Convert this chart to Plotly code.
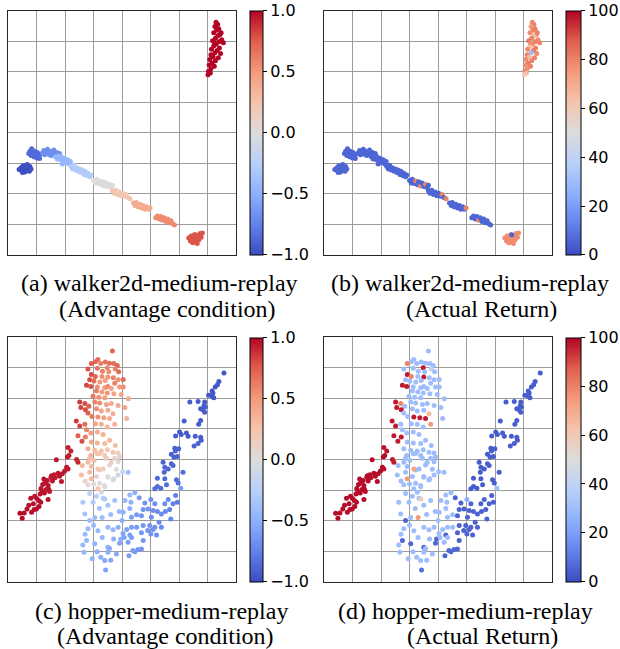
import plotly.graph_objects as go

# coolwarm colormap samples
COOLWARM = [[0.0, "#3b4cc0"], [0.125, "#6282ea"], [0.25, "#8db0fe"], [0.375, "#b8d0f9"],
            [0.5, "#dddcdc"], [0.625, "#f5c4ac"], [0.75, "#f49a7b"], [0.875, "#de604d"],
            [1.0, "#b40426"]]

# ---------------- walker2d-medium-replay embedding: (x, y, advantage, return) ----------------
walker_b1 = [(0.38,2.80,-0.98,6),(0.45,2.86,-0.98,6),(0.47,2.76,-0.98,6),(0.52,2.92,-0.98,6),(0.55,2.82,-0.98,6),
             (0.58,2.72,-0.98,6),(0.62,2.88,-0.98,6),(0.64,2.78,-0.98,6),(0.68,2.94,-0.98,6),(0.70,2.84,-0.98,6),
             (0.74,2.74,-0.98,6),(0.76,2.90,-0.98,6),(0.80,2.82,-0.98,6),(0.50,2.70,-0.98,6),(0.66,2.96,-0.98,6)]
walker_b2 = [(0.72,3.32,-0.86,6),(0.76,3.40,-0.86,6),(0.80,3.26,-0.86,6),(0.84,3.44,-0.86,6),(0.86,3.34,-0.86,6),
             (0.90,3.22,-0.86,6),(0.92,3.40,-0.86,6),(0.96,3.30,-0.86,6),(1.00,3.18,-0.86,6),(1.02,3.36,-0.86,6),
             (1.06,3.26,-0.86,6),(1.10,3.16,-0.86,6),(1.12,3.30,-0.86,6),(0.82,3.48,-0.86,6)]
walker_b3 = [(1.20,3.34,-0.68,6),(1.25,3.42,-0.68,6),(1.28,3.28,-0.68,6),(1.34,3.38,-0.68,6),(1.38,3.46,-0.68,6),
             (1.42,3.30,-0.68,6),(1.46,3.40,-0.68,6),(1.50,3.26,-0.68,6),(1.55,3.36,-0.68,6),(1.60,3.44,-0.68,6),
             (1.64,3.28,-0.68,6),(1.70,3.36,-0.68,6),(1.75,3.24,-0.68,6),(1.80,3.32,-0.68,6),(1.85,3.22,-0.68,6)]
walker_b4 = [(1.66,3.22,-0.45,6),(1.72,3.14,-0.45,6),(1.78,3.24,-0.45,6),(1.84,3.12,-0.45,6),(1.88,3.20,-0.45,6),
             (1.94,3.06,-0.45,6),(1.98,3.16,-0.45,6),(2.04,3.02,-0.45,6),(2.08,3.12,-0.45,6),(2.14,2.98,-0.45,6),
             (2.18,3.06,-0.45,6),(1.90,2.98,-0.45,6)]
walker_b5 = [(2.20,2.90,-0.28,6),(2.26,2.82,-0.28,6),(2.30,2.94,-0.28,6),(2.36,2.78,-0.28,6),(2.40,2.86,-0.28,6),
             (2.46,2.74,-0.28,6),(2.50,2.82,-0.28,6),(2.56,2.70,-0.28,6),(2.60,2.78,-0.28,6),(2.66,2.64,-0.28,6),
             (2.70,2.74,-0.28,6),(2.76,2.60,-0.28,6),(2.80,2.68,-0.28,6),(2.86,2.56,-0.28,6),(2.90,2.62,-0.28,6)]
walker_b6 = [(3.00,2.44,0.0,6),(3.06,2.36,0.0,6),(3.10,2.48,0.0,6),(3.16,2.34,0.0,6),(3.22,2.42,0.0,80),
             (3.28,2.30,0.0,6),(3.32,2.40,0.0,6),(3.38,2.26,0.0,80),(3.44,2.36,0.0,6),(3.50,2.24,0.0,6),
             (3.56,2.32,0.0,80),(3.62,2.20,0.0,6),(3.66,2.28,0.0,6)]
walker_b7 = [(3.66,2.10,0.22,6),(3.72,2.02,0.22,6),(3.78,2.12,0.22,6),(3.84,1.98,0.22,6),(3.90,2.06,0.22,6),
             (3.96,1.94,0.22,6),(4.02,2.02,0.22,6),(4.08,1.92,0.22,6),(4.14,1.98,0.22,80),(4.20,1.88,0.22,6),
             (4.28,1.84,0.22,80)]
walker_b8 = [(4.40,1.70,0.4,6),(4.46,1.62,0.4,6),(4.50,1.72,0.4,6),(4.56,1.58,0.4,6),(4.62,1.66,0.4,6),
             (4.68,1.54,0.4,6),(4.74,1.62,0.4,6),(4.80,1.50,0.4,6),(4.86,1.58,0.4,6),(4.92,1.50,0.4,6),
             (4.98,1.54,0.4,80)]
walker_b9 = [(5.18,1.22,0.56,6),(5.24,1.28,0.56,6),(5.30,1.18,0.56,6),(5.36,1.26,0.56,6),(5.42,1.14,0.56,80),
             (5.48,1.22,0.56,6),(5.54,1.10,0.56,6),(5.60,1.18,0.56,6),(5.66,1.06,0.56,6),(5.72,1.12,0.56,6),
             (5.78,1.02,0.56,6),(5.84,0.98,0.56,6)]
walker_b10 = [(6.34,0.56,0.78,78),(6.40,0.46,0.78,78),(6.42,0.62,0.78,78),(6.48,0.40,0.78,78),(6.50,0.54,0.78,78),
              (6.54,0.66,0.78,78),(6.58,0.44,0.78,78),(6.60,0.56,0.78,78),(6.64,0.38,0.78,78),(6.66,0.64,0.78,78),
              (6.70,0.50,0.78,78),(6.74,0.70,0.78,78),(6.78,0.58,0.78,78),(6.82,0.72,0.78,78),(6.58,0.66,0.78,5)]
walker_b11 = [(7.30,7.62,1.0,78),(7.36,7.55,1.0,80),(7.26,7.48,1.0,75),(7.40,7.40,1.0,82),(7.32,7.36,1.0,80),
              (7.22,7.28,1.0,78),(7.44,7.22,1.0,80),(7.36,7.18,1.0,65),(7.28,7.10,1.0,80),(7.50,7.05,1.0,78),
              (7.18,7.02,1.0,82),(7.40,6.98,1.0,80),(7.30,6.90,1.0,78),(7.56,6.95,1.0,80),(7.22,6.84,1.0,65),
              (7.42,6.78,1.0,80),(7.14,6.74,1.0,78),(7.34,6.70,1.0,82),(7.26,6.62,1.0,30),(7.46,6.60,1.0,78),
              (7.12,6.56,1.0,80),(7.20,6.48,1.0,65),(7.38,6.46,1.0,80),(7.08,6.40,1.0,78),(7.28,6.36,1.0,80),
              (7.16,6.28,1.0,82),(7.06,6.22,1.0,78),(7.24,6.18,1.0,80),(7.12,6.10,1.0,78),(7.04,6.02,1.0,80),
              (7.10,5.96,1.0,65),(7.02,5.90,1.0,60),(7.48,7.28,1.0,80),(7.24,6.96,1.0,78)]

# ---------------- hopper-medium-replay embedding: (x, y, advantage, return) ----------------
hopper_left_arm = [(0.41,2.24,0.98,99),(0.49,2.08,0.98,99),(0.56,2.25,0.98,99),(0.66,2.38,0.97,99),(0.79,2.73,0.97,99),
    (0.82,2.27,0.98,99),(0.91,2.36,0.97,99),(0.93,2.80,0.97,99),(0.99,2.38,0.97,99),(1.00,2.72,0.96,99),
    (1.07,2.66,0.97,99),(1.08,2.46,0.97,99),(1.12,2.87,0.96,99),(1.14,2.60,0.97,99),(0.88,2.55,0.97,99),
    (1.19,2.95,0.96,99),(1.21,3.18,0.96,99),(1.25,3.36,0.96,99),(1.27,2.90,0.96,99),(1.29,3.23,0.96,99),
    (1.33,3.02,0.96,99),(1.37,3.31,0.96,99),(1.40,3.15,0.96,99),(1.40,2.69,0.96,99),(1.42,3.03,0.96,99),
    (1.45,2.95,0.95,99),(1.50,3.42,0.95,99),(1.52,3.47,0.95,99),(1.55,3.30,0.95,99),(1.61,3.50,0.95,99),
    (1.64,3.40,0.95,99),(1.69,3.99,0.95,99),(1.75,3.55,0.95,99),(1.80,3.45,0.95,99),(1.87,3.28,0.95,99),
    (1.90,3.53,0.94,99),(1.98,3.62,0.94,99),(2.05,3.75,0.94,99),(2.10,3.69,0.94,99),(2.08,4.08,0.94,99),
    (2.13,4.13,0.93,99),(2.20,4.28,0.92,98),(2.10,4.39,0.92,98),(2.45,3.91,0.9,97),(2.40,4.00,0.9,97),
    (0.72,2.50,0.97,99),(1.15,3.05,0.96,99)]
hopper_column_top = [(3.66,7.55,0.72,30),(3.15,7.27,0.68,30),(3.06,7.20,0.72,30),(3.25,7.14,0.62,30),(3.41,7.19,0.66,30),
    (3.56,7.15,0.70,30),(3.71,7.14,0.68,30),(3.83,7.08,0.72,30),(2.92,7.14,0.75,80),(2.80,6.96,0.78,30),
    (3.13,6.99,0.65,30),(3.48,7.00,0.60,97),(3.31,6.89,0.62,30),(3.53,6.87,0.55,30),(3.76,6.96,0.60,40),
    (3.88,6.87,0.70,30),(2.92,6.78,0.80,97),(3.06,6.72,0.72,80),(3.29,6.72,0.55,30),(3.50,6.70,0.52,97),
    (3.69,6.68,0.60,30),(3.86,6.61,0.55,30),(2.86,6.61,0.80,30),(3.01,6.57,0.70,30),(3.22,6.54,0.50,30),
    (3.41,6.59,0.48,30),(3.74,6.50,0.60,30),(2.75,6.43,0.82,97),(2.90,6.39,0.78,97),(3.13,6.37,0.55,30),
    (3.39,6.35,0.50,30),(3.50,6.39,0.58,30),(3.62,6.32,0.45,30),(3.91,6.37,0.50,30),(3.10,6.24,0.62,30),
    (3.29,6.21,0.50,30),(3.48,6.18,0.52,30),(3.71,6.15,0.45,30),(3.97,6.13,0.42,30),(2.98,6.07,0.65,30),
    (3.18,6.04,0.55,30),(3.39,6.02,0.48,30),(2.51,5.88,0.85,97),(2.69,5.83,0.80,80),(2.83,5.74,0.75,30),
    (3.04,5.88,0.60,30),(3.21,5.85,0.55,30),(3.45,5.80,0.45,30),(3.62,5.83,0.40,30),(3.86,5.77,0.42,30),
    (2.55,5.70,0.82,97),(2.71,5.63,0.80,97),(3.10,5.66,0.55,30),(3.27,5.59,0.45,30),(3.50,5.61,0.40,30),
    (3.68,5.50,0.38,65),(2.80,5.52,0.75,30),(2.94,5.41,0.65,30),(3.15,5.39,0.55,97),(3.36,5.37,0.45,97),
    (3.56,5.34,0.40,97),(3.74,5.15,0.35,75),(2.39,5.26,0.85,97),(2.51,5.10,0.82,97),(2.69,5.15,0.70,30),
    (3.06,5.17,0.45,30),(3.27,5.15,0.38,30),(3.48,5.06,0.35,30),(2.75,4.97,0.60,30),(2.90,4.87,0.45,30),
    (3.13,4.90,0.40,30),(3.33,4.82,0.35,30),(2.45,4.78,0.75,97),(2.71,4.74,0.62,97),(2.59,4.60,0.80,97),
    (2.92,4.57,0.40,30),(3.13,4.54,0.35,30),(3.39,4.52,0.30,30),(3.56,4.63,0.32,30),(3.76,4.46,0.28,30),
    (2.80,4.35,0.38,30),(3.04,4.30,0.30,30),(3.27,4.28,0.28,30),(3.48,4.32,0.25,30),(3.68,4.24,0.22,30),
    (2.90,4.13,0.35,30),(3.13,4.19,0.28,30),(3.39,4.13,0.22,30),(3.86,4.21,0.15,30),(4.04,6.62,0.70,30),
    (4.04,6.37,0.55,30),(4.22,5.99,0.40,30),(4.16,5.34,0.35,30),(4.10,5.70,0.42,30)]
hopper_column_mid = [(2.57,3.49,0.30,30),(2.92,3.77,0.28,30),(2.86,4.04,0.30,30),(3.21,4.20,0.25,30),(3.45,4.04,0.20,30),
    (3.74,4.04,0.10,30),(3.86,3.93,0.02,30),(3.56,3.82,0.05,30),(3.91,4.09,0.08,30),(3.21,3.66,0.10,30),
    (3.80,3.68,0.00,30),(3.50,3.44,0.02,30),(2.80,3.17,0.05,30),(3.21,3.22,0.00,30),(3.68,3.33,-0.05,30),
    (3.86,3.49,-0.10,30),(3.10,3.44,0.08,30),(3.39,3.11,-0.02,30),(2.80,3.91,0.30,30),(3.01,3.97,0.28,30),
    (3.15,3.69,0.22,72),(3.33,3.69,0.15,30),(2.86,3.58,0.30,30),(2.92,3.37,0.30,75),(3.15,3.04,0.25,30),
    (3.50,3.42,0.00,30),(3.71,3.37,-0.05,30),(3.39,3.15,0.00,30),(3.27,2.93,-0.05,30),(2.60,3.80,0.32,30),
    (2.70,3.30,0.10,30),(3.00,3.20,0.02,30),(3.62,3.90,0.12,30),(4.02,3.60,-0.15,30)]
hopper_column_low = [(2.86,2.89,-0.20,30),(3.33,2.73,-0.25,30),(2.98,2.60,-0.30,30),(3.39,2.71,-0.30,60),(3.50,2.50,-0.35,30),
    (3.74,2.66,-0.35,30),(2.69,2.22,-0.35,30),(2.86,2.00,-0.40,6),(3.04,2.10,-0.40,30),(2.80,1.73,-0.42,30),
    (3.15,1.67,-0.45,30),(3.50,1.78,-0.45,30),(3.68,1.70,-0.45,30),(3.86,1.78,-0.50,30),(3.95,1.40,-0.50,6),
    (3.50,1.13,-0.50,6),(3.39,0.69,-0.55,30),(2.75,1.35,-0.45,6),(3.04,1.24,-0.48,6),(2.66,0.96,-0.45,30),
    (3.50,0.96,-0.50,30),(3.80,0.91,-0.55,30),(2.62,1.20,-0.45,30),(3.12,0.98,-0.50,30),(3.42,0.38,-0.58,8),
    (3.56,1.09,-0.52,30),(3.91,1.26,-0.55,6),(3.20,2.40,-0.35,30),(3.60,2.20,-0.40,30),(3.90,2.30,-0.45,30),
    (2.62,2.60,-0.30,30),(3.10,2.80,-0.25,30),(2.70,1.55,-0.42,30),(3.30,1.45,-0.45,30),(3.70,1.40,-0.50,30),
    (3.30,2.10,-0.40,75),(3.00,1.85,-0.42,30),(3.60,0.70,-0.55,30),(3.25,0.80,-0.50,30),(2.95,0.75,-0.48,30),
    (4.00,2.00,-0.50,30)]
hopper_bowl = [(5.88,2.82,-0.75,5),(5.62,2.69,-0.72,5),(5.94,2.60,-0.78,5),(5.79,2.55,-0.75,5),(5.50,2.55,-0.70,5),
    (5.01,2.69,-0.68,25),(4.80,2.58,-0.65,5),(5.15,2.55,-0.68,5),(4.74,2.36,-0.65,5),(4.91,2.38,-0.66,5),
    (5.09,2.33,-0.68,5),(5.24,2.30,-0.70,5),(5.38,2.22,-0.70,5),(5.52,2.30,-0.72,5),(5.67,2.36,-0.75,5),
    (5.71,2.05,-0.72,5),(5.30,1.95,-0.70,5),(5.03,2.11,-0.68,5),(4.68,2.16,-0.65,5),(4.51,2.19,-0.62,30),
    (4.33,2.11,-0.60,30),(4.74,1.84,-0.65,5),(4.97,1.84,-0.66,5),(5.15,1.78,-0.68,5),(5.38,1.78,-0.70,5),
    (5.09,1.71,-0.67,5),(4.90,1.68,-0.66,5),(4.68,1.60,-0.65,5),(5.21,1.53,-0.68,5),(5.01,1.56,-0.66,5),
    (4.51,1.78,-0.62,30),(4.33,1.78,-0.60,30),(4.16,1.71,-0.58,30),(4.27,1.53,-0.60,5),(4.07,1.45,-0.58,30),
    (4.33,1.45,-0.60,30),(4.74,1.35,-0.64,5),(4.21,1.29,-0.60,30),(4.68,1.07,-0.65,6),(4.56,1.05,-0.64,6),
    (4.45,0.98,-0.63,6),(4.24,0.85,-0.60,6),(4.38,1.02,-0.62,6),(4.03,1.58,-0.58,30),(4.10,2.66,-0.45,30),
    (4.27,2.84,-0.45,30),(4.45,2.91,-0.50,30),(4.31,2.60,-0.50,30),(4.04,2.27,-0.48,30),(4.27,2.40,-0.50,30),
    (4.21,3.58,-0.40,30),(4.60,2.75,-0.62,5)]
hopper_right_arm = [(7.58,6.83,-0.95,4),(7.27,6.37,-0.95,4),(7.16,6.24,-0.95,4),(7.19,6.18,-0.95,4),(7.04,6.10,-0.95,4),
    (7.16,6.07,-0.95,4),(7.22,6.02,-0.95,4),(6.90,5.88,-0.93,4),(6.67,5.90,-0.93,4),(6.38,5.88,-0.93,4),
    (6.88,5.77,-0.93,4),(6.92,5.72,-0.93,4),(6.76,5.66,-0.93,4),(6.84,5.63,-0.93,4),(6.90,5.55,-0.93,4),
    (6.76,5.28,-0.92,4),(6.18,5.26,-0.92,4),(6.69,5.15,-0.92,4),(6.02,4.90,-0.92,4),(6.08,4.82,-0.92,4),
    (6.26,4.87,-0.92,4),(6.32,4.76,-0.92,4),(5.88,4.77,-0.92,4),(6.57,4.76,-0.92,4),(6.76,4.73,-0.92,4),
    (6.78,4.63,-0.92,4),(6.67,4.52,-0.9,4),(6.53,4.44,-0.9,4),(5.85,4.37,-0.9,4),(5.99,4.35,-0.9,4),
    (5.87,4.28,-0.9,4),(5.73,4.17,-0.9,4),(5.94,4.10,-0.9,4),(5.82,4.08,-0.9,4),(7.40,6.55,-0.95,4),
    (7.35,6.45,-0.95,4),(5.44,3.91,-0.88,4),(5.73,3.86,-0.88,4),(5.79,3.80,-0.88,4),(5.50,3.75,-0.88,4),
    (5.62,3.69,-0.88,4),(5.48,3.58,-0.88,4),(6.14,3.58,-0.85,4),(5.24,3.39,-0.85,4),(5.50,3.37,-0.85,4),
    (5.91,3.34,-0.85,4),(5.97,3.23,-0.85,4),(5.24,3.12,-0.85,4),(5.36,3.06,-0.85,4),(5.56,3.17,-0.85,4),
    (6.06,3.06,-0.60,30),(5.15,3.04,-0.85,4)]

walker = walker_b1 + walker_b2 + walker_b3 + walker_b4 + walker_b5 + walker_b6 + walker_b7 + walker_b8 + walker_b9 + walker_b10 + walker_b11
hopper = hopper_left_arm + hopper_column_top + hopper_column_mid + hopper_column_low + hopper_bowl + hopper_right_arm

W, H = 620, 649

def col(data, i):
    return [p[i] for p in data]

adv_ticks = [-1.0, -0.5, 0.0, 0.5, 1.0]
adv_text = ["\u22121.0", "\u22120.5", "0.0", "0.5", "1.0"]
ret_ticks = [0, 20, 40, 60, 80, 100]
ret_text = ["0", "20", "40", "60", "80", "100"]

# panel pixel boxes: (left, right, top, bottom) and colorbar (left, width)
panels = [
    dict(box=(8.3, 236.7, 10.7, 255.0), cb=(250.7, 12.7), data=walker, ci=2, rng=(-1, 1), tv=adv_ticks, tt=adv_text),
    dict(box=(325.0, 554.0, 10.7, 255.0), cb=(568.3, 15.0), data=walker, ci=3, rng=(0, 100), tv=ret_ticks, tt=ret_text),
    dict(box=(8.3, 236.7, 337.3, 581.7), cb=(250.7, 13.3), data=hopper, ci=2, rng=(-1, 1), tv=adv_ticks, tt=adv_text),
    dict(box=(325.0, 554.0, 337.3, 581.7), cb=(568.3, 15.0), data=hopper, ci=3, rng=(0, 100), tv=ret_ticks, tt=ret_text),
]

fig = go.Figure()
layout = dict(width=W, height=H, margin=dict(l=0, r=0, t=0, b=0), paper_bgcolor="white",
              plot_bgcolor="white", showlegend=False)

for k, p in enumerate(panels):
    l, r, t, b = p["box"]
    sfx = "" if k == 0 else str(k + 1)
    layout["xaxis" + sfx] = dict(domain=[l / W, r / W], range=[0, 8], tick0=0, dtick=1, showgrid=True,
                                 gridcolor="#9c9c9c", gridwidth=1, showticklabels=False, ticks="",
                                 zeroline=False, showline=True, mirror=True, linecolor="#262626", linewidth=1,
                                 anchor="y" + sfx, fixedrange=True)
    layout["yaxis" + sfx] = dict(domain=[1 - b / H, 1 - t / H], range=[0, 8], tick0=0, dtick=1, showgrid=True,
                                 gridcolor="#9c9c9c", gridwidth=1, showticklabels=False, ticks="",
                                 zeroline=False, showline=True, mirror=True, linecolor="#262626", linewidth=1,
                                 anchor="x" + sfx, fixedrange=True)
    cbx, cbw = p["cb"]
    fig.add_trace(go.Scatter(
        x=col(p["data"], 0), y=col(p["data"], 1), mode="markers",
        xaxis="x" + sfx, yaxis="y" + sfx, hoverinfo="skip",
        marker=dict(size=5, color=col(p["data"], p["ci"]), colorscale=COOLWARM,
                    cmin=p["rng"][0], cmax=p["rng"][1], line=dict(width=0),
                    showscale=True,
                    colorbar=dict(x=cbx / W, xanchor="left", y=1 - (t + b) / 2 / H, yanchor="middle",
                                  len=(b - t) / H, lenmode="fraction", thickness=cbw, thicknessmode="pixels",
                                  xpad=0, ypad=0, outlinewidth=1, outlinecolor="#000000",
                                  ticks="outside", ticklen=4, tickwidth=1, tickcolor="#000000",
                                  tickvals=p["tv"], ticktext=p["tt"],
                                  tickfont=dict(family="DejaVu Sans", size=16, color="#000000")))))

captions = [
    ("(a) walker2d-medium-replay", 160, 283), ("(Advantage condition)", 168, 309),
    ("(b) walker2d-medium-replay", 472, 283), ("(Actual Return)", 483, 309),
    ("(c) hopper-medium-replay", 162, 611), ("(Advantage condition)", 166, 636),
    ("(d) hopper-medium-replay", 467, 611), ("(Actual Return)", 484, 636),
]
layout["annotations"] = [dict(text=txt, x=cx / W, y=1 - cy / H, xref="paper", yref="paper",
                              xanchor="center", yanchor="middle", showarrow=False,
                              font=dict(family="Liberation Serif", size=24, color="#000000"))
                         for txt, cx, cy in captions]

fig.update_layout(**layout)
fig.write_html("out.html")
